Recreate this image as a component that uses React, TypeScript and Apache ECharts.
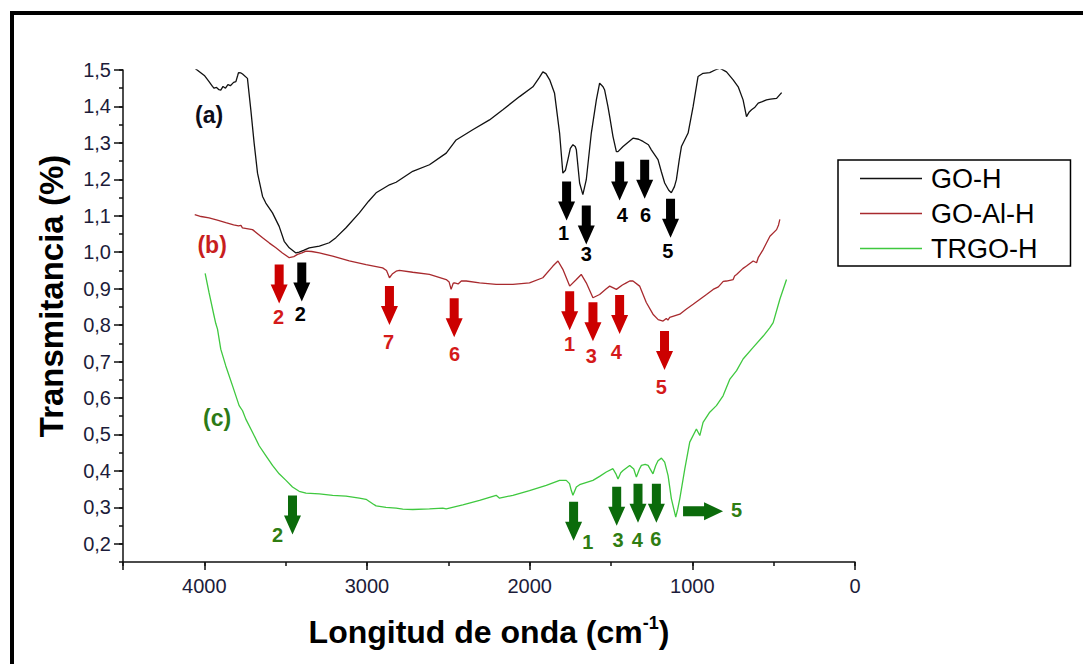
import { useEffect, useRef } from 'react';
import * as echarts from 'echarts';

// FTIR spectra: wavenumber (cm-1) vs transmittance
const FONT = "'Liberation Sans', Arial, Helvetica, sans-serif";

const seriesNames = ['GO-H', 'GO-Al-H', 'TRGO-H'];
const seriesColors = ['#111111', '#a82a2e', '#3fc83f'];

const wavenumberMajor = [0, 1000, 2000, 3000, 4000];
const transmittanceMajor = [0.2, 0.3, 0.4, 0.5, 0.6, 0.7, 0.8, 0.9, 1.0, 1.1, 1.2, 1.3, 1.4, 1.5];

const goH: [number, number][] = [
  [4059, 1.505], [4000, 1.485], [3971, 1.468], [3950, 1.455], [3940, 1.45], [3925, 1.452],
  [3910, 1.446], [3899, 1.445], [3885, 1.455], [3870, 1.45], [3855, 1.46], [3840, 1.457],
  [3820, 1.466], [3806, 1.468], [3795, 1.485], [3790, 1.493], [3775, 1.492], [3765, 1.489],
  [3735, 1.477], [3714, 1.39], [3694, 1.3], [3673, 1.217], [3642, 1.153], [3622, 1.135],
  [3581, 1.108], [3540, 1.071], [3509, 1.03], [3478, 1.012], [3437, 0.998], [3417, 1.0],
  [3390, 1.005], [3355, 1.012], [3293, 1.017], [3232, 1.026], [3191, 1.04], [3129, 1.067],
  [3047, 1.108], [2990, 1.14], [2944, 1.163], [2900, 1.175], [2862, 1.185], [2821, 1.192],
  [2719, 1.222], [2616, 1.24], [2513, 1.272], [2452, 1.308], [2350, 1.336], [2247, 1.363],
  [2165, 1.391], [2062, 1.427], [1980, 1.454], [1940, 1.48], [1919, 1.495], [1900, 1.49],
  [1877, 1.473], [1847, 1.436], [1816, 1.327], [1796, 1.217], [1780, 1.225], [1765, 1.254],
  [1750, 1.285], [1734, 1.295], [1720, 1.29], [1713, 1.281], [1693, 1.19], [1673, 1.158],
  [1652, 1.199], [1621, 1.327], [1590, 1.418], [1570, 1.464], [1549, 1.454], [1539, 1.445],
  [1519, 1.4], [1508, 1.372], [1488, 1.318], [1467, 1.276], [1457, 1.276], [1426, 1.29],
  [1400, 1.3], [1365, 1.313], [1330, 1.31], [1303, 1.304], [1270, 1.295], [1252, 1.281],
  [1211, 1.254], [1190, 1.22], [1170, 1.19], [1145, 1.17], [1129, 1.163], [1110, 1.18],
  [1098, 1.199], [1080, 1.255], [1067, 1.29], [1026, 1.327], [995, 1.4], [965, 1.482],
  [934, 1.491], [893, 1.493], [860, 1.5], [831, 1.505], [790, 1.495], [749, 1.473],
  [718, 1.454], [688, 1.418], [667, 1.372], [650, 1.385], [636, 1.391], [615, 1.398],
  [595, 1.409], [570, 1.413], [544, 1.418], [520, 1.42], [482, 1.422], [451, 1.438],
];

const goAlH: [number, number][] = [
  [4059, 1.103], [4020, 1.098], [3971, 1.094], [3920, 1.088], [3868, 1.081], [3820, 1.075],
  [3790, 1.072], [3775, 1.074], [3766, 1.067], [3704, 1.062], [3642, 1.04], [3600, 1.025],
  [3560, 1.012], [3520, 0.998], [3478, 0.985], [3450, 0.988], [3427, 0.994], [3400, 0.998],
  [3375, 1.003], [3340, 1.002], [3293, 0.998], [3211, 0.989], [3109, 0.976], [3006, 0.966],
  [2904, 0.957], [2880, 0.95], [2862, 0.93], [2845, 0.94], [2821, 0.948], [2801, 0.95],
  [2719, 0.945], [2616, 0.939], [2513, 0.925], [2495, 0.918], [2483, 0.898], [2470, 0.915],
  [2462, 0.916], [2440, 0.913], [2420, 0.921], [2390, 0.921], [2308, 0.916], [2206, 0.912],
  [2103, 0.912], [2001, 0.916], [1919, 0.93], [1857, 0.962], [1826, 0.976], [1796, 0.953],
  [1754, 0.907], [1713, 0.925], [1683, 0.939], [1652, 0.916], [1611, 0.875], [1570, 0.884],
  [1529, 0.9], [1508, 0.907], [1467, 0.898], [1430, 0.91], [1406, 0.916], [1385, 0.921],
  [1365, 0.921], [1324, 0.907], [1283, 0.862], [1242, 0.83], [1210, 0.815], [1180, 0.811],
  [1160, 0.818], [1150, 0.814], [1139, 0.821], [1077, 0.83], [1040, 0.843], [995, 0.857],
  [913, 0.884], [872, 0.898], [840, 0.905], [810, 0.92], [790, 0.921], [749, 0.925],
  [740, 0.935], [728, 0.939], [690, 0.955], [667, 0.962], [626, 0.976], [605, 0.971],
  [595, 0.985], [564, 1.008], [523, 1.044], [482, 1.062], [470, 1.075], [462, 1.09],
];

const trgoH: [number, number][] = [
  [3995, 0.942], [3971, 0.889], [3940, 0.825], [3930, 0.805], [3919, 0.789], [3899, 0.734],
  [3868, 0.688], [3827, 0.634], [3786, 0.579], [3765, 0.565], [3745, 0.542], [3704, 0.506],
  [3663, 0.469], [3622, 0.442], [3581, 0.415], [3540, 0.392], [3498, 0.374], [3458, 0.356],
  [3417, 0.344], [3375, 0.339], [3293, 0.337], [3211, 0.333], [3129, 0.331], [3047, 0.325],
  [3006, 0.322], [2965, 0.31], [2944, 0.304], [2883, 0.3], [2821, 0.298], [2780, 0.295],
  [2719, 0.294], [2616, 0.296], [2534, 0.298], [2513, 0.296], [2411, 0.307], [2308, 0.319],
  [2206, 0.333], [2185, 0.325], [2103, 0.333], [2001, 0.346], [1898, 0.36], [1816, 0.374],
  [1775, 0.374], [1755, 0.365], [1744, 0.346], [1734, 0.333], [1713, 0.356], [1693, 0.362],
  [1611, 0.374], [1570, 0.385], [1529, 0.397], [1488, 0.406], [1470, 0.392], [1457, 0.378],
  [1440, 0.395], [1426, 0.401], [1385, 0.415], [1360, 0.405], [1344, 0.383], [1325, 0.405],
  [1313, 0.415], [1290, 0.418], [1272, 0.415], [1242, 0.392], [1225, 0.415], [1211, 0.428],
  [1190, 0.435], [1170, 0.424], [1149, 0.387], [1129, 0.324], [1102, 0.273], [1090, 0.295],
  [1077, 0.324], [1046, 0.406], [1016, 0.479], [975, 0.515], [954, 0.497], [934, 0.533],
  [893, 0.561], [852, 0.579], [811, 0.606], [769, 0.652], [728, 0.675], [688, 0.707],
  [626, 0.739], [564, 0.77], [523, 0.793], [503, 0.807], [462, 0.871], [421, 0.925],
];

// Band markers: [arrow wavenumber, arrow transmittance, label wavenumber, label transmittance, band number, direction]
type Marker = [number, number, number, number, string, 'down' | 'right'];

const goHBands: Marker[] = [
  [3401, 0.972, 3410, 0.83, '2', 'down'],
  [1773, 1.194, 1791, 1.054, '1', 'down'],
  [1652, 1.128, 1652, 0.994, '3', 'down'],
  [1447, 1.249, 1430, 1.103, '4', 'down'],
  [1293, 1.254, 1287, 1.103, '6', 'down'],
  [1134, 1.147, 1151, 1.003, '5', 'down'],
];

const goAlHBands: Marker[] = [
  [3540, 0.9665, 3544, 0.8215, '2', 'down'],
  [2862, 0.907, 2867, 0.753, '7', 'down'],
  [2464, 0.8735, 2462, 0.72, '6', 'down'],
  [1754, 0.893, 1754, 0.748, '1', 'down'],
  [1611, 0.8625, 1621, 0.7156, '3', 'down'],
  [1447, 0.8825, 1467, 0.725, '4', 'down'],
  [1171, 0.784, 1190, 0.63, '5', 'down'],
];

const trgoHBands: Marker[] = [
  [3458, 0.3326, 3550, 0.225, '2', 'down'],
  [1730, 0.3153, 1642, 0.2053, '1', 'down'],
  [1465, 0.3564, 1457, 0.2094, '3', 'down'],
  [1334, 0.3646, 1338, 0.2094, '4', 'down'],
  [1221, 0.3646, 1225, 0.214, '6', 'down'],
  [1057, 0.2893, 728, 0.2915, '5', 'right'],
];

// Curve tags: [text, wavenumber, transmittance]
const curveTags: [string, number, number][] = [
  ['(a)', 3971, 1.377],
  ['(b)', 3952, 1.0185],
  ['(c)', 3921, 0.545],
];

const arrowFill = ['#000000', '#cc0000', '#0b6b0b'];
const numberFill = ['#000000', '#d41a1a', '#2f7d12'];
const tagFill = ['#0d0d1a', '#c81e1e', '#2c7a16'];

type Annotation = {
  x: number; y: number; lx: number; ly: number;
  text: string; kind: 'down' | 'right' | 'tag';
  arrowColor: string; textColor: string; size: number;
};

const annotations: Annotation[] = [];
[goHBands, goAlHBands, trgoHBands].forEach((group, gi) => {
  group.forEach(([x, y, lx, ly, text, kind]) => {
    annotations.push({ x, y, lx, ly, text, kind, arrowColor: arrowFill[gi], textColor: numberFill[gi], size: 20 });
  });
});
curveTags.forEach(([text, x, y], gi) => {
  annotations.push({ x, y, lx: x, ly: y, text, kind: 'tag', arrowColor: '', textColor: tagFill[gi], size: 23 });
});

const downArrow = [[-4.5, 0], [4.5, 0], [4.5, 20], [8.5, 20], [0, 39], [-8.5, 20], [-4.5, 20]];
const rightArrow = [[0, -5], [21, -5], [21, -9], [40, 0], [21, 9], [21, 5], [0, 5]];

const fmtComma = (v: number) => v.toFixed(1).replace('.', ',');

const axisColor = '#111';
const tickLabelColor = '#1c1c3a';

export default function App() {
  const ref = useRef<HTMLDivElement>(null);

  useEffect(() => {
    if (!ref.current) return;
    const chart = echarts.init(ref.current, undefined, { renderer: 'svg' });

    const option: any = {
      animation: false,
      backgroundColor: '#ffffff',
      grid: { left: 123, top: 70, right: 228, bottom: 102, containLabel: false },
      legend: {
        orient: 'vertical',
        left: 838,
        top: 160,
        data: seriesNames,
        icon: 'rect',
        itemWidth: 62,
        itemHeight: 1.6,
        itemGap: 8,
        padding: [5, 33, 4, 22],
        borderColor: '#000',
        borderWidth: 1.5,
        textStyle: { fontSize: 27, fontFamily: FONT, color: '#000', lineHeight: 27, padding: [0, 0, 0, 4] },
      },
      xAxis: [
        {
          type: 'value', min: 0, max: 4500, interval: 500, inverse: true, position: 'bottom',
          axisLine: { show: true, onZero: false, lineStyle: { color: axisColor, width: 1.5 } },
          axisTick: { show: true, length: 4, lineStyle: { color: axisColor, width: 1.5 } },
          axisLabel: { show: false },
          splitLine: { show: false },
        },
        {
          type: 'value', min: 0, max: 4500, interval: 1000, inverse: true, position: 'bottom',
          axisLine: { show: false, onZero: false },
          axisTick: { show: true, length: 8, lineStyle: { color: axisColor, width: 1.5 } },
          axisLabel: {
            show: true, margin: 14, fontSize: 20, fontFamily: FONT, color: tickLabelColor,
            formatter: (v: number) => (wavenumberMajor.includes(v) ? String(v) : ''),
          },
          splitLine: { show: false },
          name: '{t|Longitud de onda (cm}{s|-1}{t|)}',
          nameLocation: 'middle',
          nameGap: 52,
          nameTextStyle: {
            rich: {
              t: { fontSize: 32, fontWeight: 'bold', fontFamily: FONT, color: '#000', lineHeight: 36 },
              s: { fontSize: 18, fontWeight: 'bold', fontFamily: FONT, color: '#000', lineHeight: 36, verticalAlign: 'top' },
            },
          },
        },
      ],
      yAxis: [
        {
          type: 'value', min: 0.15, max: 1.5, interval: 0.05, position: 'left',
          axisLine: { show: true, onZero: false, lineStyle: { color: axisColor, width: 1.5 } },
          axisTick: { show: true, length: 4, lineStyle: { color: axisColor, width: 1.5 } },
          axisLabel: { show: false },
          splitLine: { show: false },
        },
        {
          type: 'value', min: 0.15, max: 1.5, position: 'left', offset: 0,
          axisLine: { show: false, onZero: false },
          axisTick: { show: true, length: 9, customValues: transmittanceMajor, lineStyle: { color: axisColor, width: 1.5 } },
          axisLabel: {
            show: true, margin: 12, fontSize: 20, fontFamily: FONT, color: tickLabelColor,
            customValues: transmittanceMajor, formatter: fmtComma,
          },
          splitLine: { show: false },
        },
      ],
      graphic: [
        {
          type: 'rect', silent: true, z: -10,
          shape: { x: 12, y: 13, width: 1200, height: 800 },
          style: { fill: 'transparent', stroke: '#000', lineWidth: 4 },
        },
        {
          type: 'text', x: 51, y: 296, rotation: Math.PI / 2,
          style: {
            text: 'Transmitancia (%)', font: `bold 33px ${FONT}`, fill: '#000',
            align: 'center', verticalAlign: 'middle',
          },
        },
      ],
      series: [
        ...[goH, goAlH, trgoH].map((data, i) => ({
          name: seriesNames[i],
          type: 'line',
          data,
          xAxisIndex: 0,
          yAxisIndex: 0,
          symbol: 'none',
          showSymbol: false,
          color: seriesColors[i],
          lineStyle: { color: seriesColors[i], width: 1.3 },
          z: 3,
        })),
        {
          name: 'bands',
          type: 'custom',
          xAxisIndex: 0,
          yAxisIndex: 0,
          clip: false,
          silent: true,
          z: 5,
          data: annotations.map((a) => [a.x, a.y, a.lx, a.ly]),
          renderItem: (params: any, api: any) => {
            const a = annotations[params.dataIndex];
            const p = api.coord([api.value(0), api.value(1)]);
            const l = api.coord([api.value(2), api.value(3)]);
            const children: any[] = [];
            if (a.kind === 'down' || a.kind === 'right') {
              children.push({
                type: 'polygon',
                x: p[0],
                y: p[1],
                shape: { points: a.kind === 'down' ? downArrow : rightArrow },
                style: { fill: a.arrowColor },
              });
            }
            children.push({
              type: 'text',
              x: l[0],
              y: l[1],
              style: {
                text: a.text,
                fill: a.textColor,
                font: `bold ${a.size}px ${FONT}`,
                align: 'center',
                verticalAlign: 'middle',
                textAlign: 'center',
                textVerticalAlign: 'middle',
              },
            });
            return { type: 'group', children };
          },
        },
      ],
    };

    chart.setOption(option);
    return () => chart.dispose();
  }, []);

  return (
    <div
      ref={ref}
      style={{ position: 'fixed', left: 0, top: 0, width: 1083, height: 664, background: '#fff' }}
    />
  );
}
